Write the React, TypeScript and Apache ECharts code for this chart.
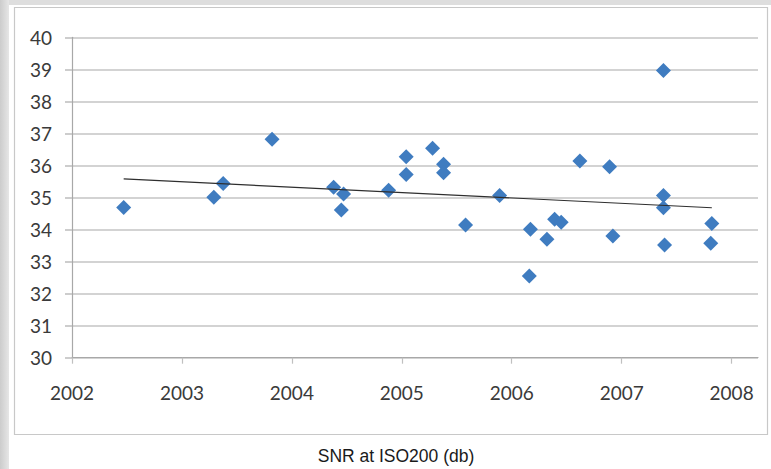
import React, { useEffect, useRef } from "react";
import * as echarts from "echarts";

const years: number[] = [
  2002.47, 2003.29, 2003.375, 2003.82,
  2004.38, 2004.47, 2004.45, 2004.88,
  2005.04, 2005.04, 2005.28, 2005.38, 2005.38, 2005.58, 2005.89,
  2006.17, 2006.16, 2006.32, 2006.39, 2006.45, 2006.62,
  2006.89, 2006.92,
  2007.38, 2007.38, 2007.38, 2007.39, 2007.82, 2007.81,
];
const snr: number[] = [
  34.69, 35.01, 35.44, 36.82,
  35.32, 35.11, 34.61, 35.23,
  36.27, 35.72, 36.54, 36.04, 35.77, 34.14, 35.06,
  34.01, 32.55, 33.70, 34.32, 34.23, 36.14,
  35.96, 33.80,
  38.96, 35.06, 34.68, 33.52, 34.19, 33.57,
];
const trendYears: number[] = [2002.47, 2007.82];
const trendValues: number[] = [35.58, 34.68];
const xTickLabels: number[] = [2002, 2003, 2004, 2005, 2006, 2007, 2008];
const chartTitle = "SNR at ISO200 (db)";

export default function App() {
  const ref = useRef<HTMLDivElement>(null);

  useEffect(() => {
    if (!ref.current) return;
    const chart = echarts.init(ref.current, null, { renderer: "svg" });
    const points = years.map((y, i) => [y, snr[i]]);
    const trend = trendYears.map((y, i) => [y, trendValues[i]]);
    chart.setOption({
      animation: false,
      backgroundColor: "#ffffff",
      grid: { left: 72, right: 13, top: 37.3, bottom: 111.3, containLabel: false },
      xAxis: {
        type: "value",
        min: 2002,
        max: 2008.24,
        interval: 1,
        axisLine: { show: true, lineStyle: { color: "#a8a8a8", width: 1.2 } },
        axisTick: {
          show: true,
          length: 6,
          inside: false,
          customValues: xTickLabels,
          lineStyle: { color: "#c0c0c0", width: 1.2 },
        },
        axisLabel: {
          customValues: xTickLabels,
          margin: 25,
          fontSize: 19,
          fontFamily: "Lato",
          color: "#3a3a3a",
          formatter: (v: number) => (Number.isInteger(v) ? String(v) : ""),
        },
        splitLine: { show: false },
      },
      yAxis: {
        type: "value",
        min: 30,
        max: 40,
        interval: 1,
        axisLine: { show: true, lineStyle: { color: "#a8a8a8", width: 1.2 } },
        axisTick: { show: true, length: 7, lineStyle: { color: "#bcbcbc", width: 1.5 } },
        axisLabel: {
          margin: 20,
          fontSize: 19,
          fontFamily: "Lato",
          color: "#3a3a3a",
        },
        splitLine: { show: true, lineStyle: { color: "#c4c4c4", width: 1.5 } },
      },
      graphic: [
        {
          type: "rect",
          shape: { x: 0, y: 0, width: 771, height: 5 },
          style: { fill: "#dedede" },
          silent: true,
          z: -10,
        },
        {
          type: "rect",
          shape: { x: 0, y: 0, width: 9, height: 469 },
          style: {
            fill: new echarts.graphic.LinearGradient(0, 0, 1, 0, [
              { offset: 0, color: "#cccccc" },
              { offset: 1, color: "#e6e6e6" },
            ]),
          },
          silent: true,
          z: -10,
        },
        {
          type: "rect",
          shape: { x: 14.5, y: 7.5, width: 753, height: 427 },
          style: { fill: "none", stroke: "#c8c8c8", lineWidth: 1.2 },
          silent: true,
          z: -9,
        },
        {
          type: "text",
          x: 396,
          y: 456,
          style: {
            text: chartTitle,
            align: "center",
            verticalAlign: "middle",
            fontFamily: "Liberation Sans",
            fontSize: 17.5,
            fill: "#1a1a1a",
          },
        },
      ],
      series: [
        {
          type: "scatter",
          data: points,
          symbol: "diamond",
          symbolSize: 15,
          itemStyle: { color: "#3f7cc0", opacity: 1 },
          z: 2,
        },
        {
          type: "line",
          data: trend,
          symbol: "none",
          lineStyle: { color: "#2e2e2e", width: 1.2 },
          z: 3,
        },
      ],
    });
    return () => chart.dispose();
  }, []);

  return (
    <div
      ref={ref}
      style={{ position: "fixed", left: 0, top: 0, width: 771, height: 469 }}
    />
  );
}
